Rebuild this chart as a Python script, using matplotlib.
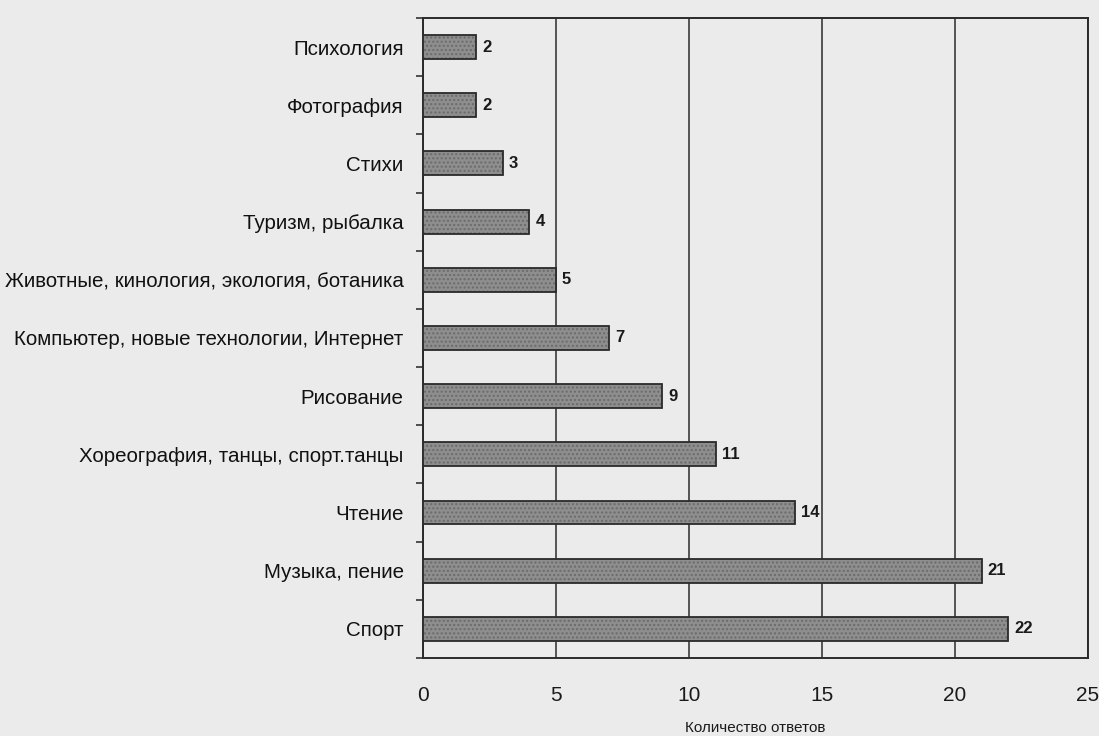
import numpy as np
import matplotlib.pyplot as plt

plt.rcParams['font.family'] = ['Liberation Sans', 'DejaVu Sans']

# данные: сверху вниз как на рисунке
categories = ["Психология", "Фотография", "Стихи", "Туризм, рыбалка",
              "Животные, кинология, экология, ботаника",
              "Компьютер, новые технологии, Интернет", "Рисование",
              "Хореография, танцы, спорт.танцы", "Чтение", "Музыка, пение", "Спорт"]
values = [2, 2, 3, 4, 5, 7, 9, 11, 14, 21, 22]
xticks = [0, 5, 10, 15, 20, 25]

BG = "#ebebeb"

fig = plt.figure(figsize=(10.99, 7.36), dpi=100, facecolor=BG)
ax = fig.add_axes([0.385, 0.106, 0.605, 0.8696])
ax.set_facecolor(BG)

y = np.arange(len(categories))
bars = ax.barh(y, values, height=0.41, color="#8e8e8e", edgecolor="#2a2a2a",
               linewidth=1.3, hatch="....", zorder=3)
for b in bars:
    b._hatch_color = (0.42, 0.42, 0.42, 1.0)

for yi, v in zip(y, values):
    ax.text(v + 0.22, yi, str(v), va="center", ha="left", fontsize=12,
            fontweight="bold", color="#1a1a1a", zorder=4)

ax.set_ylim(len(categories) - 0.5, -0.5)
ax.set_xlim(0, 25)
ax.set_xticks(xticks)
ax.set_xticklabels([str(t) for t in xticks], fontsize=15, color="#1a1a1a")
ax.tick_params(axis="x", length=0, pad=20)

# подписи категорий и засечки между ними
ax.set_yticks(y)
ax.set_yticklabels(categories, fontsize=14.8, color="#111111")
ax.tick_params(axis="y", length=0, pad=14)
ax.set_yticks(np.arange(-0.5, len(categories), 1), minor=True)
ax.tick_params(axis="y", which="minor", length=5, width=1.2, color="#333333")

ax.grid(axis="x", color="#2a2a2a", linewidth=1.1, zorder=0)
for s in ax.spines.values():
    s.set_color("#2a2a2a")
    s.set_linewidth(1.4)

ax.set_xlabel("Количество ответов", fontsize=11, color="#1a1a1a", labelpad=12)

fig.savefig("out.png", dpi=100, facecolor=BG)
